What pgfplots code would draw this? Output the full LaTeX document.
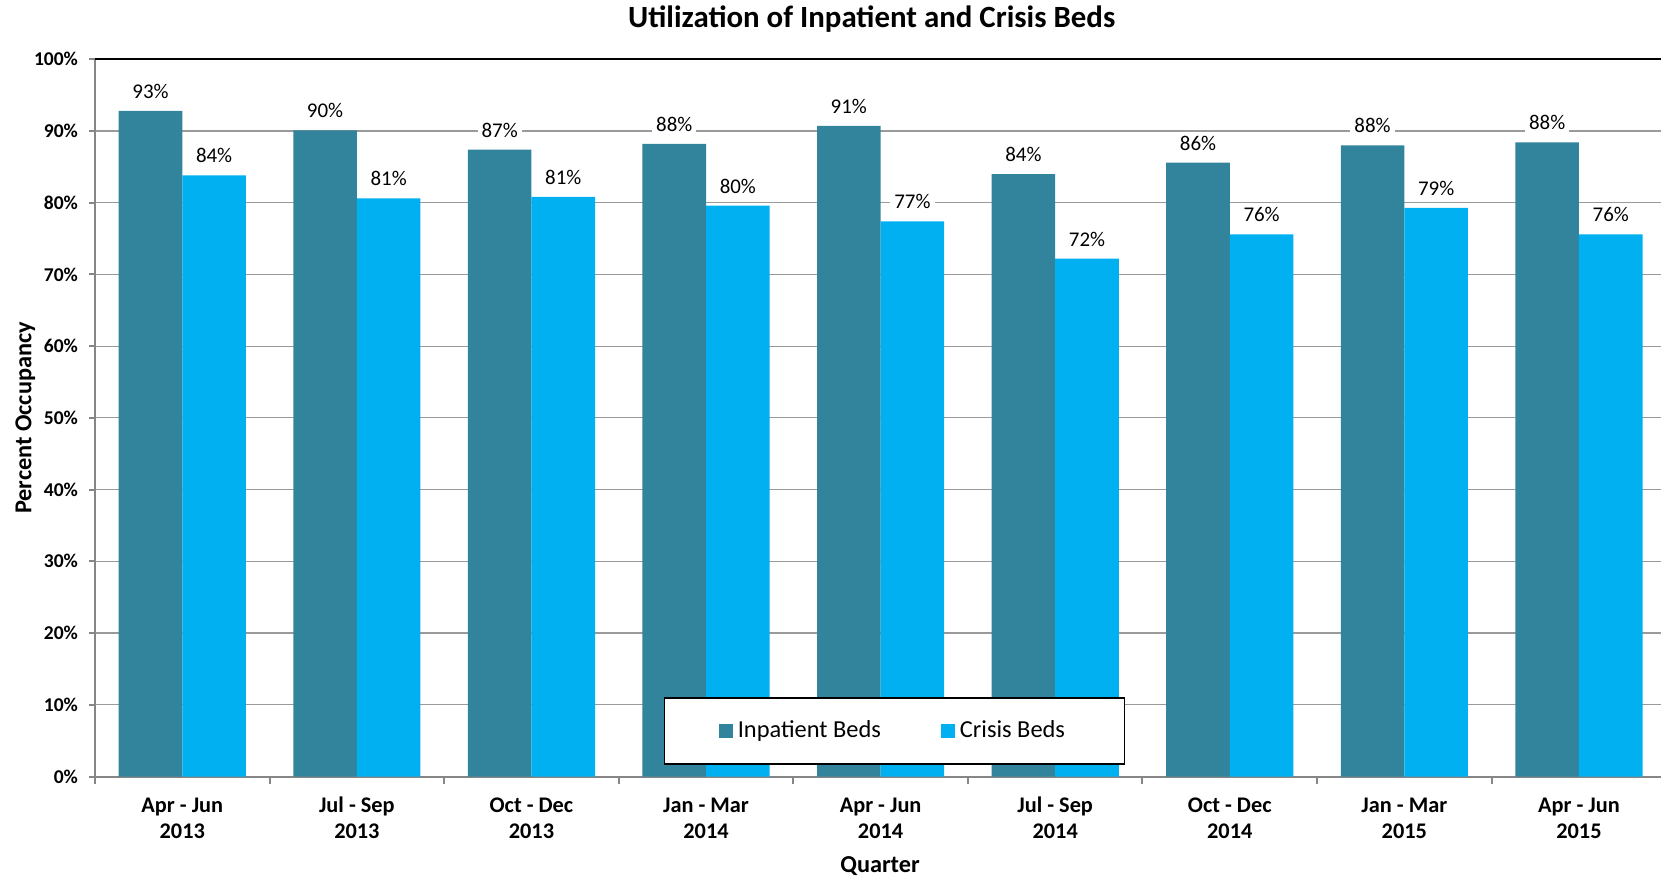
\documentclass[border=0pt]{standalone}
\usepackage{fontspec}
\setmainfont{Carlito}
\usepackage{pgfplots}
\pgfplotsset{compat=1.18}
\definecolor{inpat}{HTML}{31849B}
\definecolor{crisis}{HTML}{00B0F0}
\definecolor{axgray}{HTML}{868686}
\definecolor{gridgray}{HTML}{9A9A9A}
\begin{document}
\begin{tikzpicture}
\begin{axis}[
  scale only axis, width=783bp, height=358.6bp,
  ybar=0pt, bar width=31.8bp,
  xmin=-0.5, xmax=8.47, ymin=0, ymax=100,
  enlargelimits=false,
  axis x line*=bottom, axis y line*=left,
  axis line style={axgray, line width=1bp, -},
  tick align=outside,
  xtick={0,...,8},
  xticklabels={{Apr - Jun\\2013},{Jul - Sep\\2013},{Oct - Dec\\2013},{Jan - Mar\\2014},{Apr - Jun\\2014},{Jul - Sep\\2014},{Oct - Dec\\2014},{Jan - Mar\\2015},{Apr - Jun\\2015}},
  typeset ticklabels with strut,
  major x tick style={draw=none},
  minor xtick={-0.5,0.5,...,8.5},
  minor x tick style={axgray, line width=1bp},
  minor tick length=3.5bp,
  xticklabel style={font=\bfseries\fontsize{11.2}{13.3}\selectfont, align=center, yshift=-2.1bp},
  ytick={0,10,...,90},
  extra y ticks={100},
  extra y tick style={grid style={black, line width=1.2bp}},
  y tick style={axgray, line width=1bp},
  major tick length=3bp,
  /pgf/number format/assume math mode=true,
  yticklabel={\pgfmathprintnumber{\tick}\%},
  yticklabel style={font=\bfseries\fontsize{9.8}{12}\selectfont, xshift=-2bp},
  ymajorgrids,
  grid style={gridgray, line width=0.6bp},
  title={Utilization of Inpatient and Crisis Beds},
  title style={font=\bfseries\fontsize{15.5}{18}\selectfont, at={(axis description cs:0.496,1.039)}, anchor=center},
  xlabel={Quarter},
  xlabel style={font=\bfseries\fontsize{12.2}{14}\selectfont, at={(axis description cs:0.5013,-0.1255)}, anchor=center},
  ylabel={Percent Occupancy},
  ylabel style={font=\bfseries\fontsize{12.2}{14}\selectfont, at={(axis description cs:-0.0445,0.5)}, anchor=center},
  nodes near coords={\pgfmathprintnumber[fixed,precision=0]{\pgfplotspointmeta}\%},
  nodes near coords style={font=\fontsize{10.5}{12}\selectfont, fill=white, inner sep=2bp, anchor=south, yshift=4bp},
  legend columns=2,
  legend image code/.code={\fill[#1] (0bp,-3.5bp) rectangle (7bp,3.5bp);},
  legend style={at={(axis description cs:0.5105,0.0636)}, anchor=center, draw=black, line width=0.8bp, fill=white,
    font=\fontsize{12.25}{14}\selectfont, inner xsep=27.5bp, inner ysep=9.3bp,
    nodes={inner sep=2.25bp},
    /tikz/every even column/.append style={column sep=28bp}},
]
\addplot[fill=inpat, draw=none] coordinates {(0,92.8) (1,90.1) (2,87.4) (3,88.2) (4,90.7) (5,84.0) (6,85.6) (7,88.0) (8,88.4)};
\addplot[fill=crisis, draw=none] coordinates {(0,83.8) (1,80.6) (2,80.8) (3,79.6) (4,77.4) (5,72.2) (6,75.6) (7,79.3) (8,75.6)};
\legend{Inpatient Beds, Crisis Beds}
\end{axis}
\pgfresetboundingbox
\useasboundingbox (-47.5bp,-50.75bp) rectangle (783bp,388.25bp);
\end{tikzpicture}
\end{document}
